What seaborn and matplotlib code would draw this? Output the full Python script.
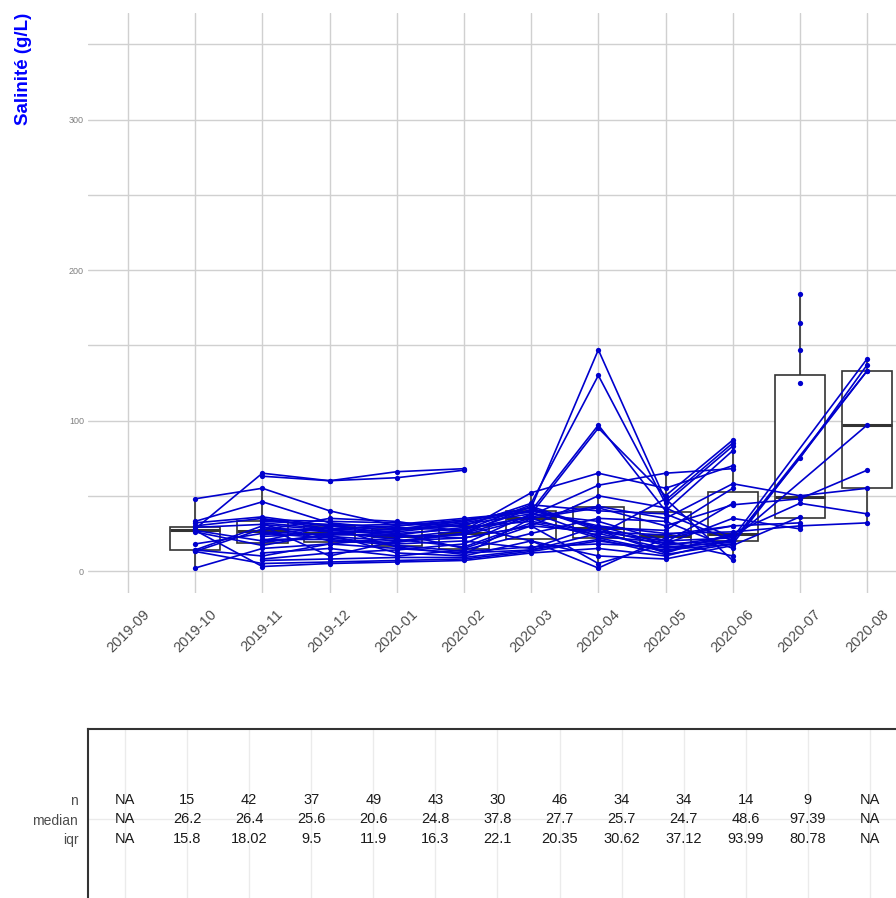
import numpy as np
import pandas as pd
import matplotlib.pyplot as plt
import seaborn as sns

# ==========================================
# COLOURS / FONTS
# ==========================================
LINE_BLUE  = "#0000CD"
LABEL_BLUE = "#0000FF"
BOX_EDGE   = "#333333"
GRID_GREY  = "#d0d0d0"
TEXT_GREY  = "#4d4d4d"

sns.set_style("white")
plt.rcParams["font.family"] = ["Liberation Sans", "DejaVu Sans"]

# ==========================================
# DATA (one entry per site, same site order in every month list)
# ==========================================
nan = np.nan
MONTHS = ["2019-09", "2019-10", "2019-11", "2019-12", "2020-01", "2020-02",
          "2020-03", "2020-04", "2020-05", "2020-06", "2020-07", "2020-08"]

oct19 = [28, nan, 48, 33, 32, 30, 2, 14, 13, 26, 27, 18, 14, 13, 27,
         nan, nan, nan, nan, nan, nan, nan, nan, nan, nan, nan, nan, nan, nan, nan,
         nan, nan, nan, nan, nan, 29]
nov19 = [65, 63, 55, 46, 36, 35, 15, 30, 28, 17, 20, 25, 10, 5, 3,
         23, 32, 34, 20, 19, 27, 12, 8, 29, 31, 24, nan, nan, nan, nan,
         33, 26, 21, 7, 34, 31]
dec19 = [60, 60, 40, 32, 30, 28, 18, 10, 27, 25, 23, 22, 18, 6, 5,
         25, 28, 33, 30, 24, 35, 15, 12, 26, 20, 29, nan, nan, nan, nan,
         31, 24, 21, 8, 30, 27]
jan20 = [66, 62, 30, 28, 27, 26, 22, 20, 25, 23, 20, 18, 15, 7, 6,
         28, 30, 32, 25, 12, 33, 10, 14, 21, 19, 16, nan, nan, nan, nan,
         29, 24, 17, 9, 31, 24]
feb20 = [68, 67, 33, 30, 32, 31, 27, 25, 28, 24, 22, 20, 12, 8, 7,
         33, 34, 30, 15, 10, 26, 14, 18, 16, 25, 11, nan, nan, nan, nan,
         27, 22, 13, 9, 35, 29]
mar20 = [nan, nan, 42, 45, 40, 38, 52, 37, 36, 35, 30, 15, 14, 13, 12,
         42, 40, 20, 30, 20, 41, 25, 38, 32, 43, 35, nan, nan, nan, nan,
         44, 30, 16, 14, 39, 33]
apr20 = [nan, nan, 147, 130, 97, 95, 65, 57, 43, 42, 26, 30, 25, 20, 15,
         27, 30, 10, 5, 2, 29, 35, 33, 24, 28, 22, nan, nan, nan, nan,
         40, 50, 18, 21, 23, 26]
may20 = [nan, nan, 47, 45, 40, 50, 55, 65, 35, 30, 20, 18, 15, 14, 10,
         12, 25, 8, 18, 22, 27, 33, 20, 48, 17, 13, nan, nan, nan, nan,
         38, 42, 16, 11, 19, 24]
jun20 = [nan, nan, 85, 83, 80, 87, 70, 68, 58, 44, 22, 20, 20, 18, 21,
         25, 26, 17, 35, 30, 55, 15, 10, 7, 23, 24, nan, nan, nan, nan,
         20, 22, 19, 18, 45, 30]
jul20 = [nan, nan, nan, nan, nan, nan, nan, nan, 50, 48, nan, 75, nan, nan, nan,
         45, 30, 36, 28, 32, nan, nan, nan, nan, nan, nan, 184, 165, 147, 125,
         nan, nan, nan, nan, nan, nan]
aug20 = [nan, nan, nan, nan, nan, nan, nan, nan, 55, 67, 141, 137, 133, 133, 97,
         38, 32, nan, nan, nan, nan, nan, nan, nan, nan, nan, nan, nan, nan, nan,
         nan, nan, nan, nan, nan, nan]

# summary table (one column per month, Sep 2019 .. Sep 2020)
TAB_N      = ["NA", "15", "42", "37", "49", "43", "30", "46", "34", "34", "14", "9", "NA"]
TAB_MEDIAN = ["NA", "26.2", "26.4", "25.6", "20.6", "24.8", "37.8", "27.7", "25.7", "24.7", "48.6", "97.39", "NA"]
TAB_IQR    = ["NA", "15.8", "18.02", "9.5", "11.9", "16.3", "22.1", "20.35", "30.62", "37.12", "93.99", "80.78", "NA"]

# long format: site / month position / salinity
month_cols = [oct19, nov19, dec19, jan20, feb20, mar20, apr20, may20, jun20, jul20, aug20]
rows = []
for pos, vals in enumerate(month_cols, start=1):
    for site, v in enumerate(vals):
        if not np.isnan(v):
            rows.append((site, pos, v))
df = pd.DataFrame(rows, columns=["site", "pos", "sal"])

# ==========================================
# FIGURE
# ==========================================
W, H = 896, 898
fig = plt.figure(figsize=(W / 100, H / 100), dpi=100)
fig.patch.set_facecolor("white")

# ---- main panel ----
ax = fig.add_axes([88 / W, 1 - 593 / H, 808 / W, 580 / H])
ax.set_axisbelow(True)

sns.boxplot(data=df, x="pos", y="sal", native_scale=True, width=0.75,
            color="white", linecolor=BOX_EDGE, linewidth=1.2, showfliers=False,
            medianprops={"linewidth": 2.2}, capprops={"linewidth": 0}, ax=ax)

sns.lineplot(data=df, x="pos", y="sal", units="site", estimator=None,
             color=LINE_BLUE, linewidth=1.2, marker="o", markersize=3.8,
             markeredgewidth=0, legend=False, zorder=3, ax=ax)

ax.set_xlim(-0.595, 11.43)
ax.set_ylim(-14.6, 370.8)
ax.set_xticks(range(len(MONTHS)))
ax.set_xticklabels(MONTHS, rotation=45, ha="center", fontsize=10.5, color=TEXT_GREY)
ax.set_yticks([0, 100, 200, 300])
ax.set_yticks([50, 150, 250, 350], minor=True)
ax.tick_params(axis="x", length=0, pad=10)
ax.tick_params(axis="y", which="both", length=0, pad=3, labelsize=6.5, labelcolor="#808080")
ax.grid(True, which="both", color=GRID_GREY, linewidth=1.0)
ax.set_xlabel("")
ax.set_ylabel("")
for s in ax.spines.values():
    s.set_visible(False)

fig.text(23 / W, 1 - 13 / H, "Salinité (g/L)", rotation=90, ha="center", va="top",
         fontsize=13.5, fontweight="bold", color=LABEL_BLUE)

# ---- summary table ----
tab = fig.add_axes([88 / W, 0, 808 / W, (H - 729) / H])
tab.set_xlim(-0.596, 12.42)
tab.set_ylim(5.03, -3.64)
tab.set_yticks([0, 1, 2])
tab.set_yticklabels(["n", "median", "iqr"], fontsize=10, color=TEXT_GREY)
tab.set_xticks([])
tab.tick_params(axis="y", length=0, pad=7)
for i in range(len(TAB_N)):
    tab.axvline(i, color="#ebebeb", linewidth=1.0, zorder=0)
tab.axhline(1, color="#ebebeb", linewidth=1.0, zorder=0)
for i, (n, med, iqr) in enumerate(zip(TAB_N, TAB_MEDIAN, TAB_IQR)):
    for r, txt in enumerate([n, med, iqr]):
        tab.text(i, r, txt, ha="center", va="center", fontsize=10.5, color="#1a1a1a")
for side in ["bottom", "right"]:
    tab.spines[side].set_visible(False)
for side in ["top", "left"]:
    tab.spines[side].set_color(BOX_EDGE)
    tab.spines[side].set_linewidth(1.5)

plt.savefig("out.png", dpi=100)
plt.close()
